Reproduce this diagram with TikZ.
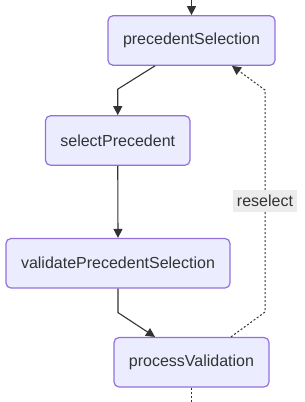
\documentclass[tikz,border=0pt]{standalone}
\usepackage{fontspec}
\setmainfont{Liberation Sans}
\usetikzlibrary{arrows.meta,calc}
\definecolor{boxfill}{HTML}{ECECFF}
\definecolor{boxline}{HTML}{9370DB}
\definecolor{ink}{HTML}{333333}
\definecolor{lblfill}{HTML}{ECECEC}
\begin{document}
\begin{tikzpicture}[x=1pt,y=-1pt,
  stepbox/.style={draw=boxline,fill=boxfill,line width=1.2pt,rounded corners=5pt,
    text=ink,font=\fontsize{16}{19}\selectfont,minimum height=49.5pt,inner sep=0pt},
  edge/.style={draw=ink,line width=1.1pt,-{Triangle[length=9pt,width=9pt]}},
  dotedge/.style={draw=ink,line width=1pt,dash pattern=on 2pt off 2pt},
  lbl/.style={fill=lblfill,text=ink,font=\fontsize{16}{19}\selectfont,
    minimum width=64pt,minimum height=22pt,inner sep=0pt}]
\useasboundingbox (0,0) rectangle (305,402);
\node[stepbox,minimum width=167pt] (ps) at (191.5,40.5) {precedentSelection};
\node[stepbox,minimum width=144.5pt] (sp) at (117.75,140.5) {selectPrecedent};
\node[stepbox,minimum width=224pt] (vp) at (118,263.25) {validatePrecedentSelection};
\node[stepbox,minimum width=155pt] (pv) at (191.5,362.25) {processValidation};
\coordinate (top) at (191.5,0);
\coordinate (bot) at (191.5,402);
\draw[edge] (top) -- (ps.north);
\draw[edge] ($(ps.south)+(-36.5,0)$) -- ($(sp.north)+(0,-26)$) -- (sp.north);
\draw[edge] (sp.south) -- (vp.north);
\draw[edge] (vp.south) -- ($(vp.south)+(0,24)$) -- ($(pv.north)+(-36.5,0)$);
\draw[dotedge,-{Triangle[length=9pt,width=9pt]}] ($(pv.north)+(39.5,0)$) -- (265,312) -- (265,90) -- ($(ps.south)+(40.5,0)$);
\node[lbl] (rs) at (265,201) {reselect};
\draw[dotedge] (pv.south) -- (bot);
\end{tikzpicture}
\end{document}
